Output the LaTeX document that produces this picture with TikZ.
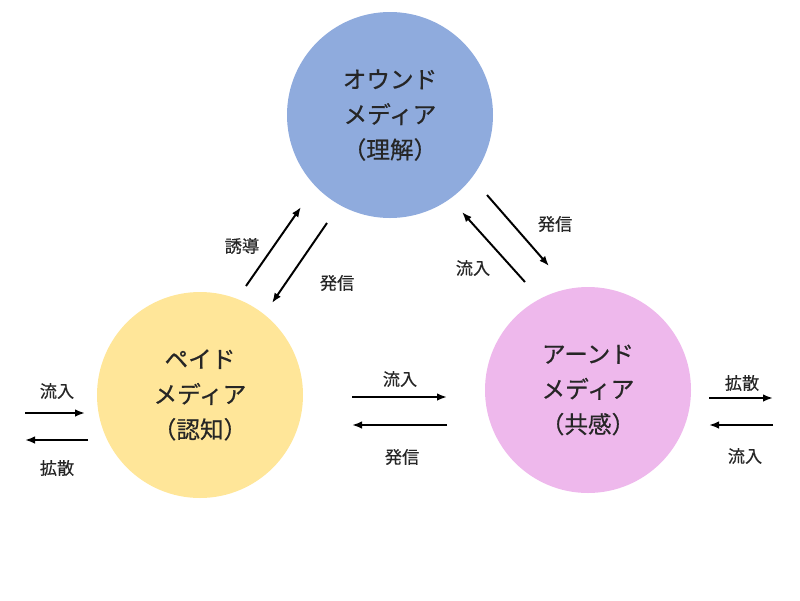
\documentclass[tikz,border=0pt]{standalone}
\usepackage{fontspec}
\setmainfont{Noto Sans CJK JP}[BoldFont={Noto Sans CJK JP},BoldFeatures={FakeBold=0.5}]
\usetikzlibrary{arrows.meta}

\definecolor{ownedblue}{HTML}{8FABDD}
\definecolor{paidyellow}{HTML}{FFE699}
\definecolor{earnedpink}{HTML}{EEB8EC}

\begin{document}
\begin{tikzpicture}[>={Latex[length=2.5mm,width=1.9mm]},
media/.style={circle,draw=none,minimum size=5.15cm,align=center,font=\bfseries\fontsize{16.8}{25}\selectfont,text=black!85},
flow/.style={->,line width=1.4pt,draw=black},
lab/.style={font=\bfseries\fontsize{12.2}{14}\selectfont,text=black!85,inner sep=1pt}]
\useasboundingbox (0,0) rectangle (20,-15);
\node[media,fill=ownedblue] (owned) at (9.75,-2.875) {オウンド\\メディア\\（理解）};
\node[media,fill=paidyellow] (paid) at (5.0,-9.875) {ペイド\\メディア\\（認知）};
\node[media,fill=earnedpink] (earned) at (14.7,-9.75) {アーンド\\メディア\\（共感）};
% paid <-> owned
\coordinate (pa1) at (6.15,-7.15);
\coordinate (pa2) at (7.525,-5.175);
\coordinate (pb1) at (8.175,-5.575);
\coordinate (pb2) at (6.8,-7.575);
\draw[flow] (pa1)--(pa2);
\draw[flow] (pb1)--(pb2);
\node[lab] (paidin) at (6.05,-6.15) {誘導};
\node[lab] (paidout) at (8.425,-7.075) {発信};
% owned <-> earned
\coordinate (ea1) at (12.175,-4.875);
\coordinate (ea2) at (13.725,-6.65);
\coordinate (eb1) at (13.125,-7.05);
\coordinate (eb2) at (11.55,-5.3);
\draw[flow] (ea1)--(ea2);
\draw[flow] (eb1)--(eb2);
\node[lab] (earnedout) at (13.875,-5.6) {発信};
\node[lab] (earnedin) at (11.825,-6.7) {流入};
% paid <-> earned
\coordinate (ma1) at (8.8,-9.925);
\coordinate (ma2) at (11.175,-9.925);
\coordinate (mb1) at (11.175,-10.625);
\coordinate (mb2) at (8.8,-10.625);
\draw[flow] (ma1)--(ma2);
\draw[flow] (mb1)--(mb2);
\node[lab] (midin) at (10.0,-9.475) {流入};
\node[lab] (midout) at (10.05,-11.425) {発信};
% outside left
\coordinate (la1) at (0.625,-10.325);
\coordinate (la2) at (2.125,-10.325);
\coordinate (lb1) at (2.2,-11.0);
\coordinate (lb2) at (0.625,-11.0);
\draw[flow] (la1)--(la2);
\draw[flow] (lb1)--(lb2);
\node[lab] (leftin) at (1.425,-9.775) {流入};
\node[lab] (leftout) at (1.425,-11.7) {拡散};
% outside right
\coordinate (ra1) at (17.725,-9.95);
\coordinate (ra2) at (19.325,-9.95);
\coordinate (rb1) at (19.325,-10.625);
\coordinate (rb2) at (17.725,-10.625);
\draw[flow] (ra1)--(ra2);
\draw[flow] (rb1)--(rb2);
\node[lab] (rightout) at (18.55,-9.575) {拡散};
\node[lab] (rightin) at (18.625,-11.4) {流入};
\end{tikzpicture}
\end{document}
